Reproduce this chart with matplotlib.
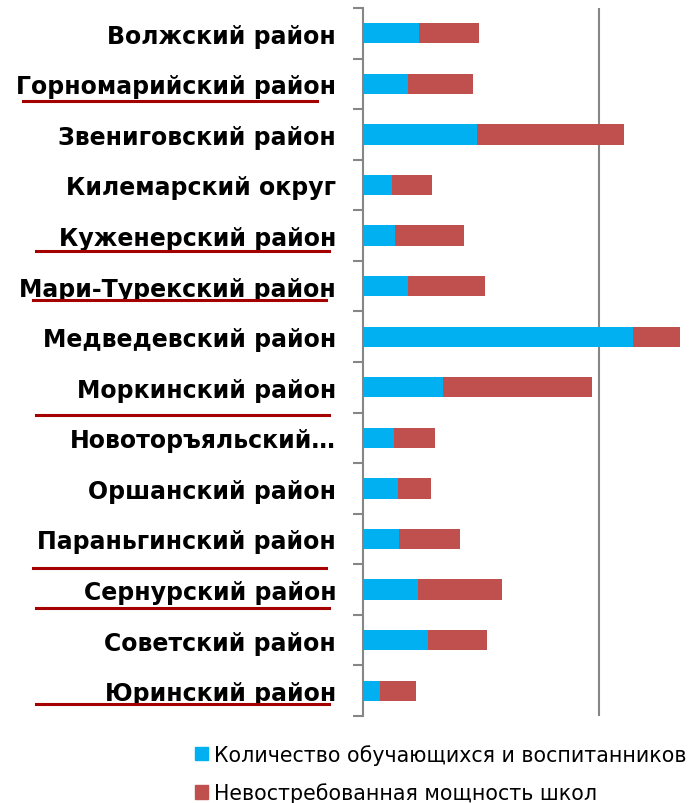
import matplotlib.pyplot as plt
from matplotlib.lines import Line2D
from matplotlib.patches import Patch

districts = ["Волжский район", "Горномарийский район", "Звениговский район",
             "Килемарский округ", "Куженерский район", "Мари-Турекский район",
             "Медведевский район", "Моркинский район", "Новоторъяльский…",
             "Оршанский район", "Параньгинский район", "Сернурский район",
             "Советский район", "Юринский район"]
students = [475, 377, 962, 241, 272, 379, 2286, 679, 258, 292, 300, 467, 552, 144]
unused = [504, 557, 1250, 339, 580, 651, 404, 1259, 353, 280, 520, 713, 501, 305]
underlined = ["Горномарийский район", "Куженерский район", "Мари-Турекский район",
              "Моркинский район", "Параньгинский район", "Сернурский район",
              "Юринский район"]

W, H = 694, 804
fig = plt.figure(figsize=(W / 100, H / 100), dpi=100)
ax = fig.add_axes([363.3 / W, 1 - 717 / H, 1 - 363.3 / W, (717 - 9) / H])

y = list(range(len(districts)))
ax.barh(y, students, height=0.4, color="#00B0F0", zorder=3)
ax.barh(y, unused, left=students, height=0.4, color="#C0504D", zorder=3)

ax.set_ylim(len(districts) - 0.5, -0.5)
ax.set_xlim(0, 2000 * (W - 363.3) / 235.7)
ax.set_xticks([2000])
ax.set_xticklabels([])
ax.tick_params(axis="x", length=0)
ax.grid(axis="x", color="#868686", linewidth=1.5, zorder=1)

ax.set_yticks(y)
ax.set_yticklabels(districts, fontsize=17, fontweight="bold", family="DejaVu Sans")
ax.tick_params(axis="y", which="major", length=0, pad=19.5)
ax.set_yticks([i - 0.5 for i in range(len(districts) + 1)], minor=True)
ax.tick_params(axis="y", which="minor", length=7, width=1.5, color="#868686")

for s in ["top", "right", "bottom"]:
    ax.spines[s].set_visible(False)
ax.spines["left"].set_color("#868686")
ax.spines["left"].set_linewidth(1.5)

# red underlines under some labels (hand-drawn in the original)
under_y = {"Горномарийский район": 101.7, "Куженерский район": 252,
           "Мари-Турекский район": 300.7, "Моркинский район": 415.7,
           "Параньгинский район": 569.3, "Сернурский район": 609,
           "Юринский район": 705.3}
under_x = {"Горномарийский район": (23, 317), "Мари-Турекский район": (33, 326),
           "Параньгинский район": (33, 326)}
for name in underlined:
    x0, x1 = under_x.get(name, (36, 329))
    yy = 1 - under_y[name] / H
    fig.add_artist(Line2D([x0 / W, x1 / W], [yy, yy], color="#A50000",
                          linewidth=2.2, transform=fig.transFigure))

handles = [Patch(color="#00B0F0"), Patch(color="#C0504D")]
fig.legend(handles, ["Количество обучающихся и воспитанников",
                     "Невостребованная мощность школ"],
           loc="upper left", bbox_to_anchor=(187 / W, 1 - 737 / H),
           frameon=False, fontsize=14.8, handlelength=0.62, handleheight=0.62,
           handletextpad=0.3, labelspacing=0.85, borderaxespad=0)

fig.savefig("out.png", dpi=100)
